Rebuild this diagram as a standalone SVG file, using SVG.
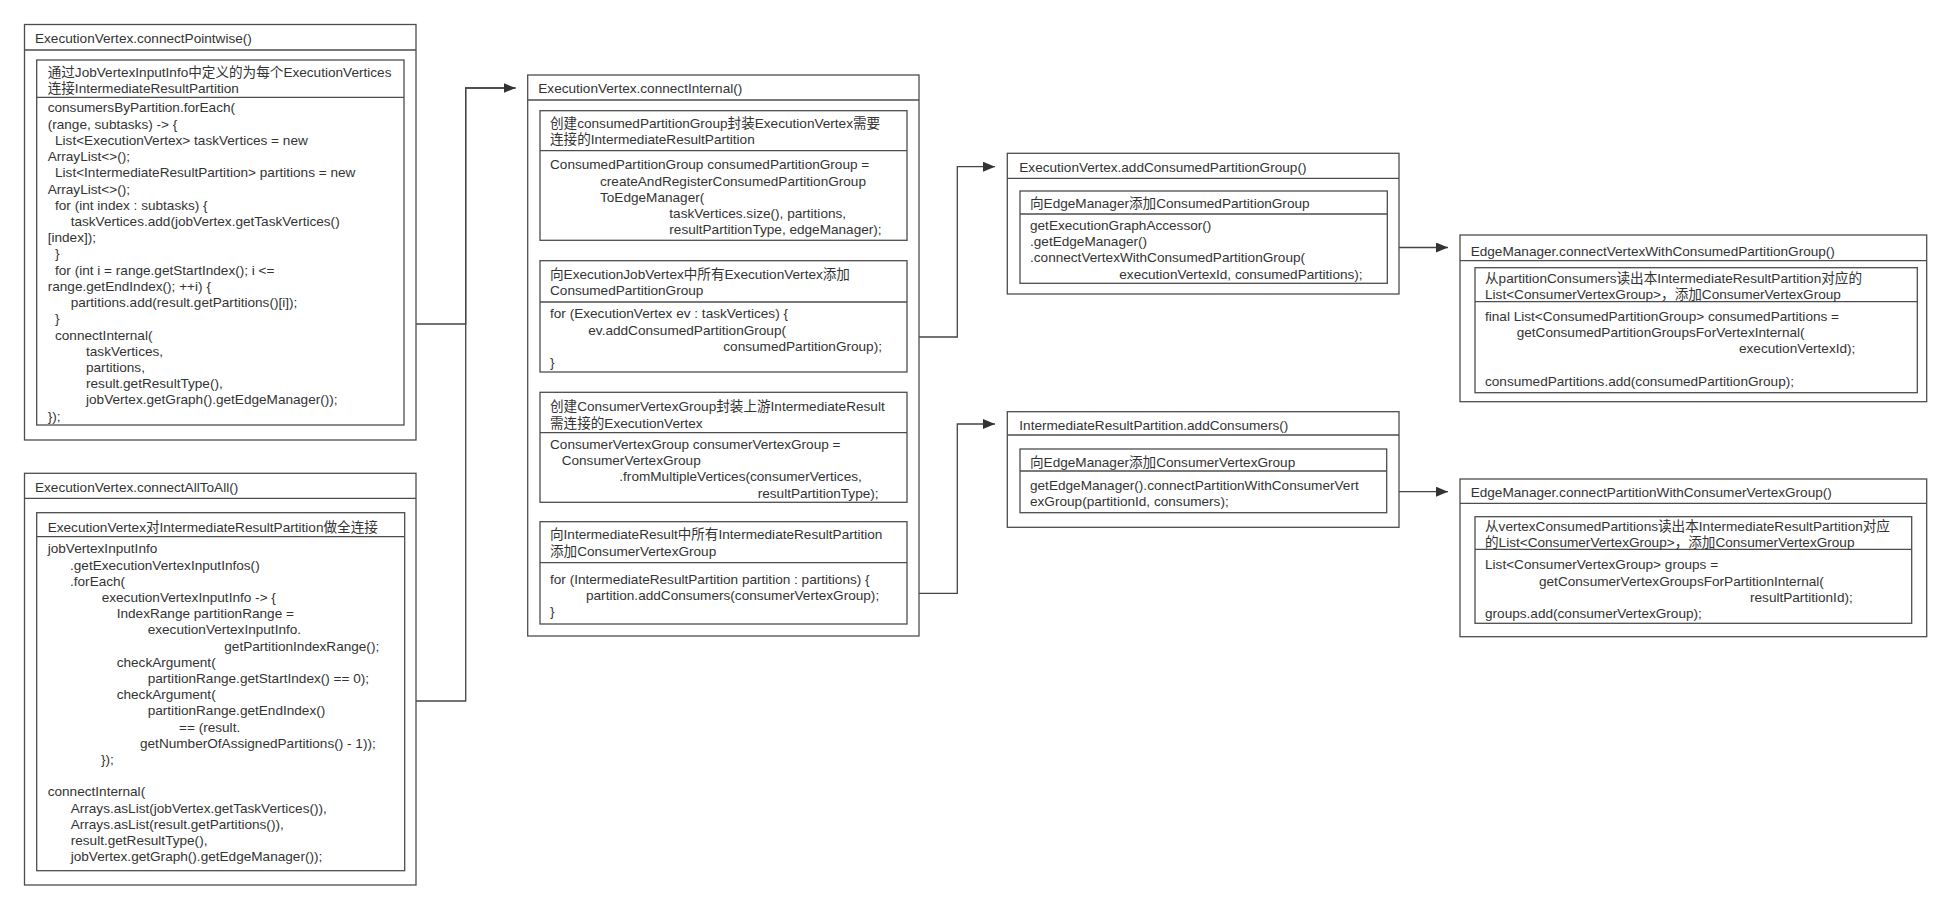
<svg xmlns="http://www.w3.org/2000/svg" width="1951" height="909" viewBox="0 0 1951 909">
<style>
.b{fill:#fff;stroke:#4d4d4d;stroke-width:1.3}
.l{fill:none;stroke:#4d4d4d;stroke-width:1.3}
.c{fill:none;stroke:#444;stroke-width:1.3}
text{font-family:"Liberation Sans","Noto Sans CJK SC",sans-serif;font-size:13.6px;fill:#333}
</style>
<defs>
<marker id="ah" markerUnits="userSpaceOnUse" markerWidth="13" markerHeight="11" refX="12" refY="5" orient="auto">
<path d="M0,0 L12,5 L0,10 z" fill="#333"/>
</marker>
</defs>
<rect width="1951" height="909" fill="#fff"/>

<g id="connectors">
<path class="c" d="M405,701 H465.7 V88 H515.5"/>
<path class="c" d="M405,324 H465.7 V88 H515.5" marker-end="url(#ah)"/>
<path class="c" d="M907,337 H957.3 V166.7 H995" marker-end="url(#ah)"/>
<path class="c" d="M907,593.3 H957.3 V424 H995" marker-end="url(#ah)"/>
<path class="c" d="M1387,247.5 H1448" marker-end="url(#ah)"/>
<path class="c" d="M1387,491.7 H1448" marker-end="url(#ah)"/>
</g>

<g id="connectPointwise">
<rect class="b" x="24.5" y="24.5" width="391.5" height="415.5"/>
<line class="l" x1="24.5" y1="50" x2="416" y2="50"/>
<text x="35" y="43.3">ExecutionVertex.connectPointwise()</text>
<rect class="b" x="36.7" y="60" width="367.3" height="365"/>
<line class="l" x1="36.7" y1="97.3" x2="404" y2="97.3"/>
<text x="47.7" y="76.7">通过JobVertexInputInfo中定义的为每个ExecutionVertices</text>
<text x="47.7" y="92.7">连接IntermediateResultPartition</text>
<text x="47.7" y="112.3">consumersByPartition.forEach(</text>
<text x="47.7" y="128.5">(range, subtasks) -&gt; {</text>
<text x="55" y="144.8">List&lt;ExecutionVertex&gt; taskVertices = new</text>
<text x="47.7" y="161">ArrayList&lt;&gt;();</text>
<text x="55" y="177.2">List&lt;IntermediateResultPartition&gt; partitions = new</text>
<text x="47.7" y="193.5">ArrayList&lt;&gt;();</text>
<text x="55" y="209.7">for (int index : subtasks) {</text>
<text x="70.7" y="225.9">taskVertices.add(jobVertex.getTaskVertices()</text>
<text x="47.7" y="242.1">[index]);</text>
<text x="55" y="258.4">}</text>
<text x="55" y="274.6">for (int i = range.getStartIndex(); i &lt;=</text>
<text x="47.7" y="290.8">range.getEndIndex(); ++i) {</text>
<text x="70.7" y="307.1">partitions.add(result.getPartitions()[i]);</text>
<text x="55" y="323.3">}</text>
<text x="55" y="339.5">connectInternal(</text>
<text x="86" y="355.7">taskVertices,</text>
<text x="86" y="372">partitions,</text>
<text x="86" y="388.2">result.getResultType(),</text>
<text x="86" y="404.4">jobVertex.getGraph().getEdgeManager());</text>
<text x="47.7" y="420.7">});</text>
</g>

<g id="connectAllToAll">
<rect class="b" x="24.5" y="473.3" width="391.5" height="411.7"/>
<line class="l" x1="24.5" y1="498.3" x2="416" y2="498.3"/>
<text x="35" y="491.7">ExecutionVertex.connectAllToAll()</text>
<rect class="b" x="36.7" y="512.7" width="368" height="358"/>
<line class="l" x1="36.7" y1="536.7" x2="404.7" y2="536.7"/>
<text x="47.7" y="531.7">ExecutionVertex对IntermediateResultPartition做全连接</text>
<text x="47.7" y="553.3">jobVertexInputInfo</text>
<text x="70" y="569.5">.getExecutionVertexInputInfos()</text>
<text x="70" y="585.7">.forEach(</text>
<text x="101.7" y="601.9">executionVertexInputInfo -&gt; {</text>
<text x="116.7" y="618.1">IndexRange partitionRange =</text>
<text x="147.7" y="634.3">executionVertexInputInfo.</text>
<text x="224.3" y="650.5">getPartitionIndexRange();</text>
<text x="116.7" y="666.7">checkArgument(</text>
<text x="147.7" y="682.9">partitionRange.getStartIndex() == 0);</text>
<text x="116.7" y="699.1">checkArgument(</text>
<text x="147.7" y="715.3">partitionRange.getEndIndex()</text>
<text x="179" y="731.5">== (result.</text>
<text x="140" y="747.7">getNumberOfAssignedPartitions() - 1));</text>
<text x="101" y="763.9">});</text>
<text x="47.7" y="796.3">connectInternal(</text>
<text x="70.7" y="812.5">Arrays.asList(jobVertex.getTaskVertices()),</text>
<text x="70.7" y="828.7">Arrays.asList(result.getPartitions()),</text>
<text x="70.7" y="844.9">result.getResultType(),</text>
<text x="70.7" y="861.1">jobVertex.getGraph().getEdgeManager());</text>
</g>

<g id="connectInternal">
<rect class="b" x="527.7" y="75" width="391.3" height="561"/>
<line class="l" x1="527.7" y1="100" x2="919" y2="100"/>
<text x="538.3" y="93.3">ExecutionVertex.connectInternal()</text>

<rect class="b" x="540" y="110.7" width="367" height="129.6"/>
<line class="l" x1="540" y1="150.7" x2="907" y2="150.7"/>
<text x="550" y="128.3">创建consumedPartitionGroup封装ExecutionVertex需要</text>
<text x="550" y="144.3">连接的IntermediateResultPartition</text>
<text x="550" y="169.3">ConsumedPartitionGroup consumedPartitionGroup =</text>
<text x="600" y="185.5">createAndRegisterConsumedPartitionGroup</text>
<text x="600" y="201.7">ToEdgeManager(</text>
<text x="669.3" y="217.9">taskVertices.size(), partitions,</text>
<text x="669.3" y="234.1">resultPartitionType, edgeManager);</text>

<rect class="b" x="540" y="260.7" width="367" height="111.3"/>
<line class="l" x1="540" y1="302" x2="907" y2="302"/>
<text x="550" y="279.3">向ExecutionJobVertex中所有ExecutionVertex添加</text>
<text x="550" y="295">ConsumedPartitionGroup</text>
<text x="550" y="318.3">for (ExecutionVertex ev : taskVertices) {</text>
<text x="588.3" y="334.5">ev.addConsumedPartitionGroup(</text>
<text x="723.3" y="350.7">consumedPartitionGroup);</text>
<text x="550" y="366.9">}</text>

<rect class="b" x="540" y="392.3" width="367" height="110"/>
<line class="l" x1="540" y1="432.7" x2="907" y2="432.7"/>
<text x="550" y="411">创建ConsumerVertexGroup封装上游IntermediateResult</text>
<text x="550" y="427.7">需连接的ExecutionVertex</text>
<text x="550" y="449">ConsumerVertexGroup consumerVertexGroup =</text>
<text x="561.7" y="465.2">ConsumerVertexGroup</text>
<text x="619.3" y="481.4">.fromMultipleVertices(consumerVertices,</text>
<text x="757.7" y="497.6">resultPartitionType);</text>

<rect class="b" x="540" y="521.7" width="367" height="102.3"/>
<line class="l" x1="540" y1="562.7" x2="907" y2="562.7"/>
<text x="550" y="539">向IntermediateResult中所有IntermediateResultPartition</text>
<text x="550" y="555.7">添加ConsumerVertexGroup</text>
<text x="550" y="584.3">for (IntermediateResultPartition partition : partitions) {</text>
<text x="586" y="600.3">partition.addConsumers(consumerVertexGroup);</text>
<text x="550" y="616.3">}</text>
</g>

<g id="addConsumedPartitionGroup">
<rect class="b" x="1007.3" y="153.3" width="391.7" height="140.7"/>
<line class="l" x1="1007.3" y1="178.3" x2="1399" y2="178.3"/>
<text x="1019.3" y="171.7">ExecutionVertex.addConsumedPartitionGroup()</text>
<rect class="b" x="1020" y="191" width="367.3" height="92.3"/>
<line class="l" x1="1020" y1="214" x2="1387.3" y2="214"/>
<text x="1030" y="208.3">向EdgeManager添加ConsumedPartitionGroup</text>
<text x="1030" y="230">getExecutionGraphAccessor()</text>
<text x="1030" y="246.2">.getEdgeManager()</text>
<text x="1030" y="262.4">.connectVertexWithConsumedPartitionGroup(</text>
<text x="1119.3" y="278.6">executionVertexId, consumedPartitions);</text>
</g>

<g id="addConsumers">
<rect class="b" x="1007.3" y="411.7" width="391.7" height="115.6"/>
<line class="l" x1="1007.3" y1="435" x2="1399" y2="435"/>
<text x="1019.3" y="430">IntermediateResultPartition.addConsumers()</text>
<rect class="b" x="1020" y="449" width="366.7" height="63.7"/>
<line class="l" x1="1020" y1="471" x2="1386.7" y2="471"/>
<text x="1030" y="466.7">向EdgeManager添加ConsumerVertexGroup</text>
<text x="1030" y="490">getEdgeManager().connectPartitionWithConsumerVert</text>
<text x="1030" y="505.5">exGroup(partitionId, consumers);</text>
</g>

<g id="connectVertexWithConsumedPartitionGroup">
<rect class="b" x="1460" y="235" width="466.7" height="166.7"/>
<line class="l" x1="1460" y1="260.7" x2="1926.7" y2="260.7"/>
<text x="1470.7" y="255.7">EdgeManager.connectVertexWithConsumedPartitionGroup()</text>
<rect class="b" x="1475" y="267.7" width="442.3" height="125"/>
<line class="l" x1="1475" y1="301.7" x2="1917.3" y2="301.7"/>
<text x="1485" y="283.3">从partitionConsumers读出本IntermediateResultPartition对应的</text>
<text x="1485" y="299">List&lt;ConsumerVertexGroup&gt;，添加ConsumerVertexGroup</text>
<text x="1485" y="321">final List&lt;ConsumedPartitionGroup&gt; consumedPartitions =</text>
<text x="1516.7" y="337.2">getConsumedPartitionGroupsForVertexInternal(</text>
<text x="1739" y="353.4">executionVertexId);</text>
<text x="1485" y="386.2">consumedPartitions.add(consumedPartitionGroup);</text>
</g>

<g id="connectPartitionWithConsumerVertexGroup">
<rect class="b" x="1460" y="479" width="466.7" height="157.7"/>
<line class="l" x1="1460" y1="503.3" x2="1926.7" y2="503.3"/>
<text x="1470.7" y="497.3">EdgeManager.connectPartitionWithConsumerVertexGroup()</text>
<rect class="b" x="1475" y="516.7" width="436.7" height="106.6"/>
<line class="l" x1="1475" y1="549.3" x2="1911.7" y2="549.3"/>
<text x="1485" y="531">从vertexConsumedPartitions读出本IntermediateResultPartition对应</text>
<text x="1485" y="546.7">的List&lt;ConsumerVertexGroup&gt;，添加ConsumerVertexGroup</text>
<text x="1485" y="569.3">List&lt;ConsumerVertexGroup&gt; groups =</text>
<text x="1539" y="585.5">getConsumerVertexGroupsForPartitionInternal(</text>
<text x="1750" y="601.7">resultPartitionId);</text>
<text x="1485" y="617.9">groups.add(consumerVertexGroup);</text>
</g>
</svg>
